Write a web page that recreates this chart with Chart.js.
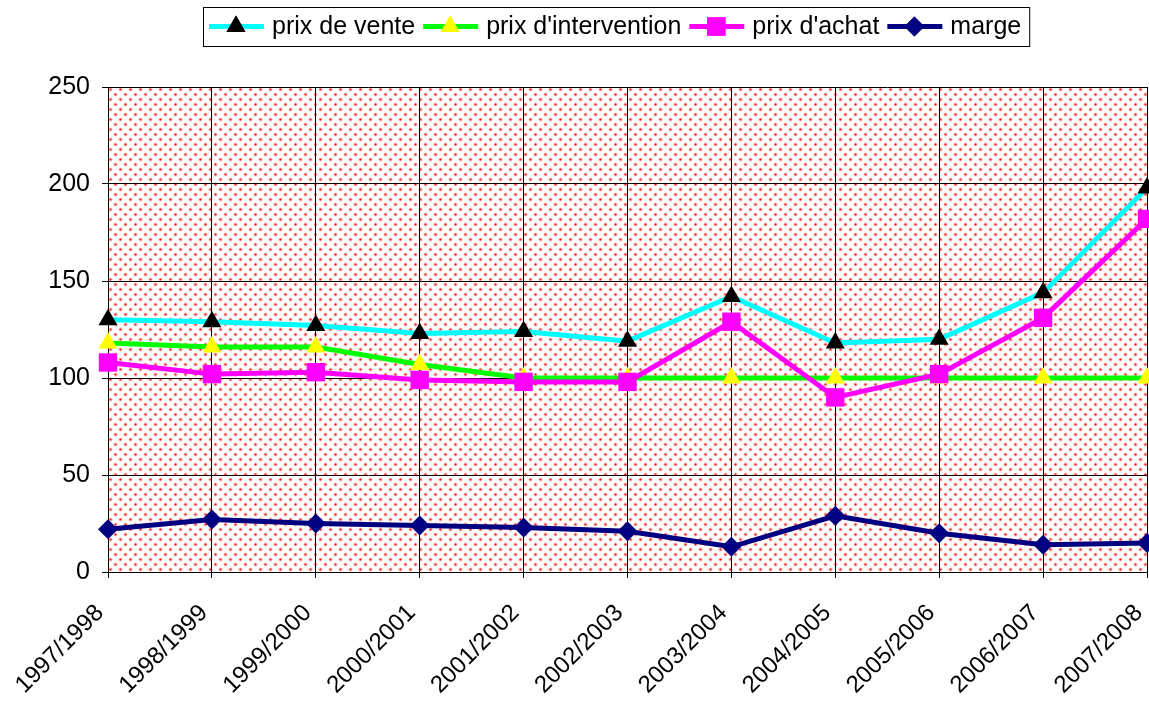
<!DOCTYPE html>
<html>
<head>
<meta charset="utf-8">
<script src="https://cdn.jsdelivr.net/npm/chart.js@4/dist/chart.umd.min.js"></script>
<style>
    html, body { margin: 0; padding: 0; background: #fff; }
    #wrap { width: 1149px; height: 702px; }
</style>
</head>
<body>
<div id="wrap"><canvas id="prixChart" width="1149" height="702"></canvas></div>
<script>
const categories = ['1997/1998', '1998/1999', '1999/2000', '2000/2001', '2001/2002', '2002/2003',
    '2003/2004', '2004/2005', '2005/2006', '2006/2007', '2007/2008'];
const prixVente = [130, 129, 127, 123, 124, 119, 142, 118, 120, 144, 198];
const prixIntervention = [118, 116, 116, 107, 100, 100, 100, 100, 100, 100, 100];
const prixAchat = [108, 102, 103, 99, 98, 98, 129, 90, 102, 131, 182];
const marge = [22, 27, 25, 24, 23, 21, 13, 29, 20, 14, 15];
const yTicks = [0, 50, 100, 150, 200, 250];

const FONT = "'Liberation Sans', Arial, sans-serif";

// motif de points rouges pour le fond
function makePattern() {
    const c = document.createElement('canvas');
    c.width = 10;
    c.height = 10;
    const p = c.getContext('2d');
    [[2.5, 2.5], [7.5, 7.5]].forEach(([x, y]) => {
        p.fillStyle = 'rgba(255, 0, 0, 0.25)';
        p.beginPath(); p.arc(x, y, 2, 0, Math.PI * 2); p.fill();
        p.fillStyle = 'rgba(255, 0, 0, 0.85)';
        p.beginPath(); p.arc(x, y, 1.1, 0, Math.PI * 2); p.fill();
    });
    return c;
}

const seriesStyle = [
    { label: 'prix de vente', line: '#00ffff', fill: '#000000', style: 'triangle', r: 11 },
    { label: "prix d'intervention", line: '#00ff00', fill: '#ffff00', style: 'triangle', r: 11 },
    { label: "prix d'achat", line: '#ff00ff', fill: '#ff00ff', style: 'rect', r: 13 },
    { label: 'marge', line: '#000080', fill: '#000080', style: 'rectRot', r: 10 }
];

const bgPlugin = {
    id: 'dotBackground',
    beforeDraw(chart) {
        const { ctx, chartArea: a } = chart;
        const pat = ctx.createPattern(makePattern(), 'repeat');
        ctx.save();
        ctx.translate(a.left, a.top);
        ctx.fillStyle = pat;
        ctx.fillRect(0, 0, a.right - a.left, a.bottom - a.top);
        ctx.restore();
    }
};

const legendPlugin = {
    id: 'boxLegend',
    afterDraw(chart) {
        const ctx = chart.ctx;
        const left = 203, top = 7, height = 39;
        ctx.save();
        ctx.font = '25px ' + FONT;
        let x = left + 6;
        const yMid = top + height / 2;
        seriesStyle.forEach(s => {
            ctx.strokeStyle = s.line;
            ctx.lineWidth = 5;
            ctx.beginPath();
            ctx.moveTo(x, yMid);
            ctx.lineTo(x + 55, yMid);
            ctx.stroke();
            ctx.fillStyle = s.fill;
            Chart.helpers.drawPoint(ctx, { pointStyle: s.style, radius: s.r, rotation: 0, borderWidth: 0 }, x + 27, yMid);
            ctx.fill();
            x += 55 + 8;
            ctx.fillStyle = '#000';
            ctx.textBaseline = 'middle';
            ctx.fillText(s.label, x, yMid + 1);
            x += ctx.measureText(s.label).width + 8;
        });
        ctx.strokeStyle = '#000';
        ctx.lineWidth = 1;
        ctx.strokeRect(left + 0.5, top + 0.5, x - left, height);
        ctx.restore();
    }
};

document.addEventListener('DOMContentLoaded', () => {
    const ctx = document.getElementById('prixChart').getContext('2d');
    const values = [prixVente, prixIntervention, prixAchat, marge];

    const chart = new Chart(ctx, {
        type: 'line',
        data: {
            labels: categories,
            datasets: seriesStyle.map((s, i) => ({
                label: s.label,
                data: values[i],
                borderColor: s.line,
                borderWidth: 5,
                pointStyle: s.style,
                pointRadius: s.r,
                pointBackgroundColor: s.fill,
                pointBorderWidth: 0,
                pointBorderColor: s.fill,
                tension: 0,
                order: 4 - i,
                clip: 12
            }))
        },
        options: {
            responsive: false,
            animation: false,
            layout: { autoPadding: false, padding: { top: 87, right: 2, left: 0, bottom: 0 } },
            plugins: {
                legend: { display: false },
                tooltip: { enabled: false }
            },
            scales: {
                x: {
                    type: 'category',
                    offset: false,
                    grid: { color: '#000', lineWidth: 1, tickLength: 6, drawTicks: true },
                    border: { color: '#000', width: 1 },
                    ticks: {
                        color: '#000',
                        font: { family: FONT, size: 24 },
                        minRotation: 45,
                        maxRotation: 45,
                        padding: 21,
                        labelOffset: -8,
                        autoSkip: false
                    },
                    afterFit(scale) {
                        scale.height = 130;
                        scale.paddingLeft = 0;
                        scale.paddingRight = 0;
                    }
                },
                y: {
                    min: 0,
                    max: 250,
                    afterBuildTicks(scale) { scale.ticks = yTicks.map(v => ({ value: v })); },
                    grid: { color: '#000', lineWidth: 1, tickLength: 6 },
                    border: { color: '#000', width: 1 },
                    ticks: {
                        color: '#000',
                        font: { family: FONT, size: 25 },
                        padding: 12
                    },
                    afterFit(scale) { scale.width = 108; }
                }
            }
        },
        plugins: [bgPlugin, legendPlugin]
    });
});
</script>
</body>
</html>
